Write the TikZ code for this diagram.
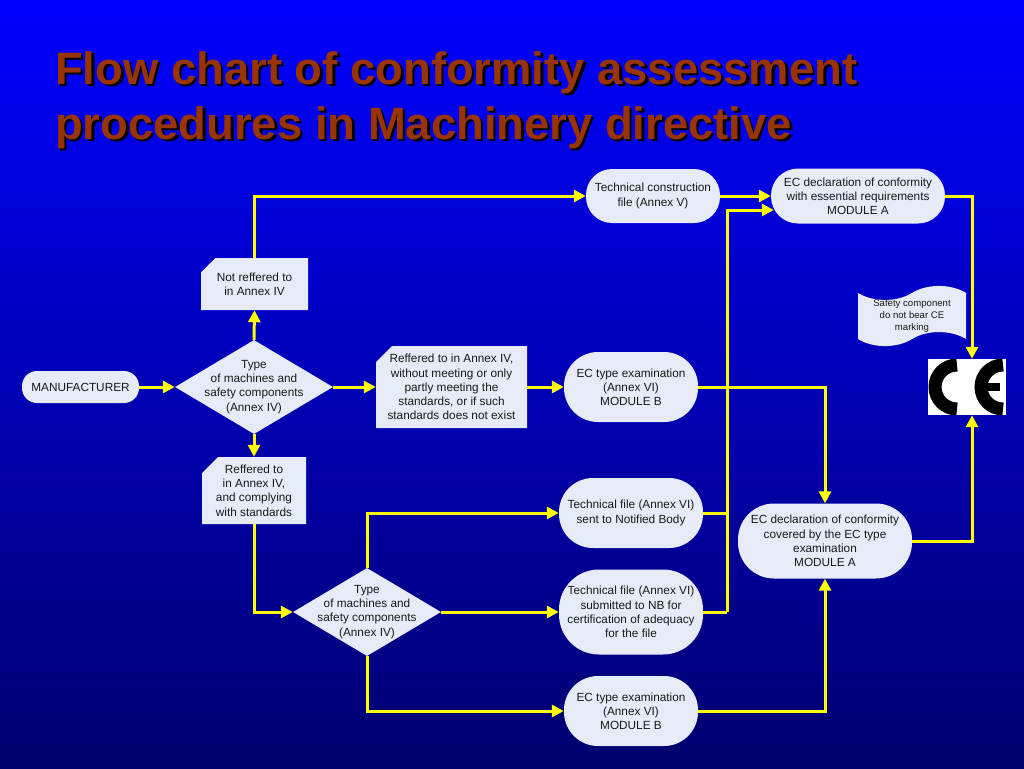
\documentclass[tikz,border=0pt]{standalone}
\usepackage{fontspec}
\setmainfont{Liberation Sans}
\usepackage{tikz}
\usetikzlibrary{arrows.meta,calc,shapes.geometric,shapes.misc,shapes.symbols}
\definecolor{slideblue}{RGB}{0,0,255}
\definecolor{slidenavy}{RGB}{0,0,110}
\definecolor{titlebrown}{RGB}{153,51,0}
\definecolor{boxfill}{RGB}{230,235,247}
\definecolor{linkyellow}{RGB}{255,255,0}

\begin{document}
\begin{tikzpicture}[
    x=1pt,y=-1pt,
    every node/.style={font=\fontsize{11.8}{14.2}\selectfont,align=center,text=black!90,inner sep=0pt},
    pill/.style={rectangle,fill=boxfill,rounded corners=#1},
    tagbox/.style={chamfered rectangle,chamfered rectangle corners=north west,
      chamfered rectangle xsep=8pt,chamfered rectangle ysep=8pt,fill=boxfill},
    decision/.style={diamond,fill=boxfill,inner sep=-18pt},
    arrow/.style={-{Triangle[length=12pt,width=12pt]},line width=3pt,draw=linkyellow},
    link/.style={line width=3pt,draw=linkyellow},
    headline/.style={font=\fontsize{45.4}{55}\bfseries\selectfont,align=left,anchor=north west}
  ]
    \shade[top color=slideblue,bottom color=slidenavy] (0,0) rectangle (1024,768);
    \useasboundingbox (0,0) rectangle (1024,768);

    \node[headline,text=black] (shadow) at (57.5,53.5)
      {Flow chart of conformity assessment\\procedures in Machinery directive};
    \node[headline,text=titlebrown] (title) at (55,51)
      {Flow chart of conformity assessment\\procedures in Machinery directive};

    \node[pill=15,minimum width=117pt,minimum height=32pt] (maker) at (80.5,387) {MANUFACTURER};
    \node[decision,minimum width=158pt,minimum height=94pt] (type1) at (254,387)
      {Type\\of machines and\\safety components\\(Annex IV)};
    \node[tagbox,inner xsep=-9.5pt,inner ysep=-5pt,minimum width=107pt,minimum height=52pt] (notref) at (254.5,284)
      {Not reffered to\\in Annex IV};
    \node[tagbox,inner xsep=-6.5pt,inner ysep=-9pt,minimum width=151pt,minimum height=82pt] (partref) at (451.5,387)
      {Reffered to in Annex IV,\\without meeting or only\\partly meeting the\\standards, or if such\\standards does not exist};
    \node[tagbox,inner xsep=-8.5pt,inner ysep=-11.5pt,minimum width=104pt,minimum height=67pt] (stdref) at (254,490.5)
      {Reffered to\\in Annex IV,\\and complying\\with standards};
    \node[pill=26,minimum width=134pt,minimum height=54pt] (techcon) at (653,196)
      {Technical construction\\file (Annex V)};
    \node[pill=27,minimum width=174pt,minimum height=55pt] (decla) at (858,196)
      {EC declaration of conformity\\with essential requirements\\MODULE A};
    \node[pill=34,minimum width=134pt,minimum height=70pt] (examb) at (631,387)
      {EC type examination\\(Annex VI)\\MODULE B};
    \node[pill=34,minimum width=144pt,minimum height=70pt] (techsent) at (631,513)
      {Technical file (Annex VI)\\sent to Notified Body};
    \node[pill=40,minimum width=144pt,minimum height=85pt] (techcert) at (631,612)
      {Technical file (Annex VI)\\submitted to NB for\\certification of adequacy\\for the file};
    \node[decision,minimum width=148pt,minimum height=88pt] (type2) at (367,612)
      {Type\\of machines and\\safety components\\(Annex IV)};
    \node[pill=34,minimum width=134pt,minimum height=70pt] (examlow) at (631,711)
      {EC type examination\\(Annex VI)\\MODULE B};
    \node[pill=36,minimum width=174pt,minimum height=75pt] (declcov) at (825,541)
      {EC declaration of conformity\\covered by the EC type\\examination\\MODULE A};
    \node[tape,tape bend top=in and out,tape bend bottom=in and out,tape bend height=14pt,
      fill=boxfill,font=\fontsize{9.6}{11.6}\selectfont,
      minimum width=108pt,minimum height=60pt] (safety) at (912,316)
      {Safety component\\do not bear CE\\marking};

    % CE mark
    \node[fill=white,minimum width=78pt,minimum height=56pt] (ce) at (967,387) {};
    \begin{scope}
      \clip (ce.north west) rectangle (ce.south east);
      \draw[line width=13pt,black] (957,365) arc[start angle=270,end angle=90,radius=22];
      \draw[line width=13pt,black] (1003,365) arc[start angle=270,end angle=90,radius=22];
      \draw[line width=8pt,black] (985,387) -- (1000,387);
    \end{scope}

    \coordinate (cetop) at ($(ce.north)+(5,0)$);
    \coordinate (cebot) at ($(ce.south)+(5,0)$);
    \coordinate (declain) at ($(decla.west)+(3,14)$);
    \coordinate (merge) at ($(techcert.east)+(24,0)$);

    \draw[arrow] (maker.east) -- (type1.west);
    \draw[arrow] (type1.north) -- (notref.south);
    \draw[arrow] (notref.north) |- (techcon.west);
    \draw[arrow] (techcon.east) -- (decla.west);
    \draw[arrow] (decla.east) -| (cetop);
    \draw[arrow] (type1.east) -- (partref.west);
    \draw[arrow] (partref.east) -- (examb.west);
    \draw[arrow] (examb.east) -| (declcov.north);
    \draw[arrow] (type1.south) -- (stdref.north);
    \draw[arrow] (stdref.south) |- (type2.west);
    \draw[arrow] (type2.north) |- (techsent.west);
    \draw[arrow] (type2.east) -- (techcert.west);
    \draw[arrow] (type2.south) |- (examlow.west);
    \draw[link] (techcert.east) -- (merge);
    \draw[link] (techsent.east) -- (techsent.east -| merge);
    \draw[arrow] (merge) |- (declain);
    \draw[arrow] (examlow.east) -| (declcov.south);
    \draw[arrow] (declcov.east) -| (cebot);
  \end{tikzpicture}
\end{document}
